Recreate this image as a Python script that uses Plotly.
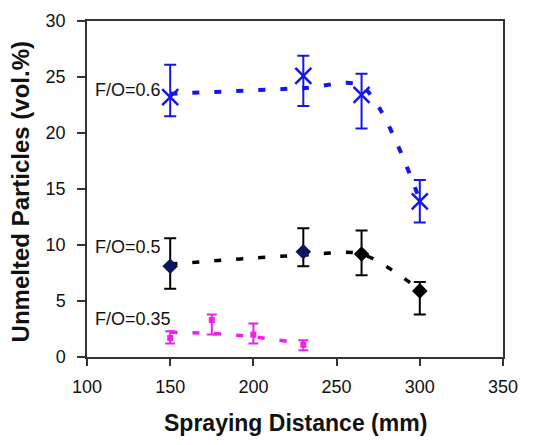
import plotly.graph_objects as go

x06 = [150, 230, 265, 300]
y06 = [23.2, 25.1, 23.4, 13.9]
up06 = [26.1, 26.9, 25.3, 15.8]
lo06 = [21.5, 22.4, 20.4, 12.0]
trend06 = [23.5, 24.0, 24.2, 14.0]

x05 = [150, 230, 265, 300]
y05 = [8.1, 9.4, 9.2, 5.9]
up05 = [10.6, 11.5, 11.3, 6.7]
lo05 = [6.1, 8.1, 7.3, 3.8]
trend05 = [8.3, 9.1, 9.2, 6.0]

x035 = [150, 175, 200, 230]
y035 = [1.7, 3.3, 2.0, 1.1]
up035 = [2.3, 3.8, 3.0, 1.5]
lo035 = [1.2, 2.0, 1.2, 0.6]
trend035 = [2.2, 2.1, 1.8, 1.2]

labels = ["F/O=0.6", "F/O=0.5", "F/O=0.35"]
label_y = [23.8, 9.8, 3.4]

xticks = [100, 150, 200, 250, 300, 350]
yticks = [0, 5, 10, 15, 20, 25, 30]

BLUE = "#1414ee"
MAG = "#f020e8"
FONT = "Arial, Liberation Sans, sans-serif"

fig = go.Figure()

def add_series(x, y, tr, up, lo, color, mcolors, symbol, size, mline, capw, lw):
    fig.add_trace(go.Scatter(
        x=x, y=tr, mode="lines",
        line=dict(color=color, width=lw, dash="7px,15px", shape="spline", smoothing=0.8),
        hoverinfo="skip", showlegend=False))
    fig.add_trace(go.Scatter(
        x=x, y=y, mode="markers",
        marker=dict(symbol=symbol, size=size, color=mcolors,
                    line=dict(color=mcolors if mline else None, width=mline)),
        error_y=dict(type="data", symmetric=False,
                     array=[u - v for u, v in zip(up, y)],
                     arrayminus=[v - l for v, l in zip(y, lo)],
                     color=color, thickness=2, width=capw),
        showlegend=False))

add_series(x06, y06, trend06, up06, lo06, BLUE, BLUE, "x-thin", 16, 2.5, 6, 4)
add_series(x05, y05, trend05, up05, lo05, "#000000",
           ["#0b1660", "#0b1660", "#000000", "#000000"], "diamond", 12, 0, 6, 3.5)
add_series(x035, y035, trend035, up035, lo035, MAG, MAG, "square", 6, 0, 5, 3.5)

for t, yy in zip(labels, label_y):
    fig.add_annotation(x=0.015, xref="paper", y=yy, yref="y", text=t,
                       showarrow=False, xanchor="left", yanchor="middle",
                       font=dict(size=18, color="#111111", family=FONT))

fig.add_annotation(x=-0.161, xref="paper", y=0.49, yref="paper",
                   text="<b>Unmelted Particles (vol.%)</b>", textangle=-90,
                   showarrow=False, xanchor="center", yanchor="middle",
                   font=dict(size=24, color="#111111", family=FONT))
fig.add_annotation(x=0.5, xref="paper", y=-0.196, yref="paper",
                   text="<b>Spraying Distance (mm)</b>",
                   showarrow=False, xanchor="center", yanchor="middle",
                   font=dict(size=23, color="#111111", family=FONT))

fig.update_layout(
    width=535, height=437,
    margin=dict(l=79, r=40, t=13, b=88),
    paper_bgcolor="white", plot_bgcolor="white",
    font=dict(family=FONT, color="#111111"),
)
fig.update_xaxes(range=[100, 350], tickvals=xticks, ticks="outside", ticklen=7,
                 tickwidth=1.5, tickcolor="#333", showline=True, linecolor="#333",
                 linewidth=1.5, mirror=True, showgrid=False, zeroline=False,
                 tickfont=dict(size=18), ticklabelstandoff=6, automargin=False)
fig.update_yaxes(range=[0, 30], tickvals=yticks, ticks="outside", ticklen=8,
                 tickwidth=1.5, tickcolor="#333", showline=True, linecolor="#333",
                 linewidth=1.5, mirror=True, showgrid=False, zeroline=False,
                 tickfont=dict(size=18), ticklabelstandoff=8, automargin=False)

fig.write_html("out.html")
